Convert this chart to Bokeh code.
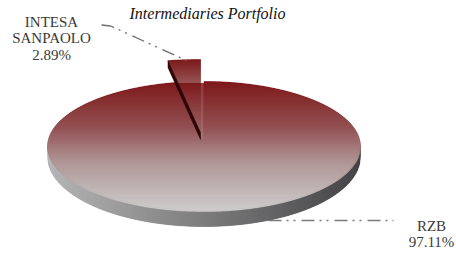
import numpy as np
from bokeh.plotting import figure
from bokeh.models import Range1d, ColumnDataSource
from bokeh.core.properties import value
from bokeh.embed import file_html
from bokeh.resources import INLINE

# ---------------- data ----------------
title_text = "Intermediaries Portfolio"
categories = ["RZB", "INTESA SANPAOLO"]
shares = [97.11, 2.89]          # percent, drawn clockwise from 12 o'clock

# ---------------- layout / style ----------------
W, H = 456, 253
FONT = value("'Liberation Serif', 'Times New Roman', serif")
cx, cy, rx, ry = 203.5, 146.0, 156.5, 65.0      # ellipse of the top face
apex = (203.0, 141.0)                             # projected pie centre
# exploded (small) slice geometry
s_apex = (200.0, 132.0)
s_rx, s_ry = 180.0, 73.0

p = figure(width=W, height=H, output_backend="svg", toolbar_location=None,
           x_range=Range1d(0, W), y_range=Range1d(H, 0),
           x_axis_type=None, y_axis_type=None, min_border=0)
p.grid.visible = False
p.outline_line_color = None
p.background_fill_color = "white"
p.border_fill_color = "white"


def lerp_stops(stops, f):
    f = min(max(f, 0.0), 1.0)
    for (f0, c0), (f1, c1) in zip(stops[:-1], stops[1:]):
        if f <= f1:
            t = (f - f0) / (f1 - f0) if f1 > f0 else 0
            c = [int(round(a + t * (b - a))) for a, b in zip(c0, c1)]
            return "#%02x%02x%02x" % tuple(c)
    return "#%02x%02x%02x" % tuple(stops[-1][1])


def clip_half(pts, k, val, keep_greater):
    out = []
    n = len(pts)
    def inside(q):
        return q[k] >= val if keep_greater else q[k] <= val
    def inter(a, b):
        t = (val - a[k]) / (b[k] - a[k])
        return (a[0] + t * (b[0] - a[0]), a[1] + t * (b[1] - a[1]))
    for i in range(n):
        cur, prev = pts[i], pts[i - 1]
        if inside(cur):
            if not inside(prev):
                out.append(inter(prev, cur))
            out.append(cur)
        elif inside(prev):
            out.append(inter(prev, cur))
    return out


def gradient_patches(poly, axis, lo, hi, stops, step=1.0):
    xs, ys, cs = [], [], []
    v = lo
    while v < hi:
        band = clip_half(poly, axis, v, True)
        if band:
            band = clip_half(band, axis, v + step, False)
        if len(band) >= 3:
            xs.append([q[0] for q in band])
            ys.append([q[1] for q in band])
            cs.append(lerp_stops(stops, (v + step / 2 - lo) / (hi - lo)))
        v += step
    return xs, ys, cs


def draw(xs, ys, cs, lw=0.6):
    src = ColumnDataSource(dict(xs=xs, ys=ys, c=cs))
    p.patches("xs", "ys", source=src, fill_color="c", line_color="c", line_width=lw)


top_stops = [(0.0, (120, 14, 16)), (0.35, (141, 72, 74)),
             (0.62, (172, 145, 145)), (1.0, (204, 203, 203))]
side_stops = [(0.0, (178, 178, 178)), (1.0, (60, 60, 62))]
small_stops = [(0.0, (118, 14, 16)), (0.5, (160, 110, 110)), (1.0, (216, 214, 214))]

# angle spans from the data
total = sum(shares)
spans = []
start = 0.0
for s in shares:
    end = start + 360.0 * s / total
    spans.append((start, end))
    start = end

# ---------------- side wall (belongs to the large slice) ----------------
def ytop(xx):
    u = (xx - cx) / rx
    return cy + ry * np.sqrt(max(0.0, 1 - u * u))

def dep(xx):
    u = (xx - cx) / rx
    return 10.0 + 5.0 * np.sqrt(max(0.0, 1 - u * u))

sx_list, sy_list, sc_list = [], [], []
x = cx - rx
while x < cx + rx:
    x2 = min(x + 1.0, cx + rx)
    xa, xb = x, x2
    ya, yb = ytop(xa), ytop(xb)
    sx_list.append([xa, xb, xb, xa])
    sy_list.append([ya - 1, yb - 1, yb + dep(xb), ya + dep(xa)])
    sc_list.append(lerp_stops(side_stops, ((xa + xb) / 2 - (cx - rx)) / (2 * rx)))
    x = x2
draw(sx_list, sy_list, sc_list)

# ---------------- exploded small slice (INTESA) ----------------
a0, a1 = spans[1]
ts = np.radians(np.linspace(a0, a1, 30))
small_poly = [s_apex] + [(s_apex[0] + s_rx * np.sin(t), s_apex[1] - s_ry * np.cos(t)) for t in ts]
ymin = min(q[1] for q in small_poly)
xs, ys, cs = gradient_patches(small_poly, 1, ymin, s_apex[1], small_stops, 1.0)
draw(xs, ys, cs)

# ---------------- large slice top face (RZB) ----------------
a0, a1 = spans[0]
ts = np.radians(np.linspace(a0, a1, 300))
main_poly = [apex] + [(cx + rx * np.sin(t), cy - ry * np.cos(t)) for t in ts]
xs, ys, cs = gradient_patches(main_poly, 1, cy - ry, cy + ry, top_stops, 1.0)
draw(xs, ys, cs)

# radial face of the small slice (dark stripe)
e = small_poly[1]
d = 7.0
p.patch([s_apex[0], e[0], e[0], s_apex[0]], [s_apex[1], e[1], e[1] + d, s_apex[1] + d],
        fill_color="#2c0606", line_color="#2c0606", line_width=0.5)

# ---------------- leader lines ----------------
dash = "13 5 2 5 2 6"
p.line([101, 110, 186], [24.5, 25.5, 60], line_color="#6e6e6e", line_width=1.3, line_dash=dash)
p.line([268, 393], [220, 220], line_color="#7a7a7a", line_width=1.4, line_dash=dash)

# ---------------- labels ----------------
label_pos = {"INTESA SANPAOLO": (51, 21), "RZB": (431, 225)}
lx, ly, lt = [], [], []
for name, val in zip(categories, shares):
    x0, y0 = label_pos[name]
    lines = name.split() + ["%.2f%%" % val]
    for i, ln in enumerate(lines):
        lx.append(x0)
        ly.append(y0 + 16.5 * i)
        lt.append(ln)
p.text(x=lx, y=ly, text=lt, text_font=FONT, text_font_size="15px",
       text_color="#3a3a3a", text_align="center", text_baseline="alphabetic")

p.text(x=[207], y=[13], text=[title_text], text_font=FONT, text_font_size="16px",
       text_font_style="italic", text_color="#111111", text_align="center",
       text_baseline="alphabetic")

open("out.html", "w").write(file_html(p, INLINE))
